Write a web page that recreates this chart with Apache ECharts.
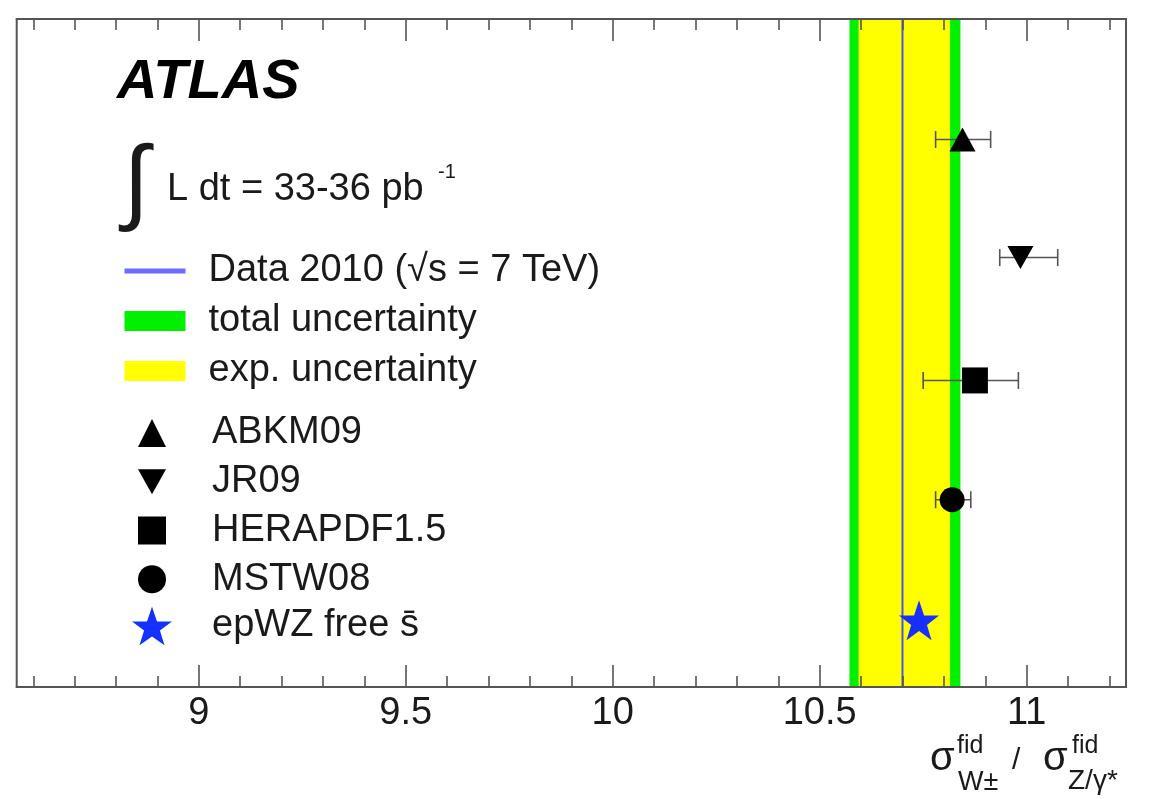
<!DOCTYPE html>
<html>
<head>
<meta charset="utf-8">
<script src="https://cdn.jsdelivr.net/npm/echarts@6/dist/echarts.min.js"></script>
<style>
html,body{margin:0;padding:0;background:#fff;}
#chart{width:1163px;height:799px;}
</style>
</head>
<body>
<div id="chart"></div>
<script>
// ---- data ----
const xRange = [8.56, 11.24];
const majorTicks = [9, 9.5, 10, 10.5, 11];
const minorTicks = [8.6, 8.7, 8.8, 8.9, 9.1, 9.2, 9.3, 9.4, 9.6, 9.7, 9.8, 9.9, 10.1, 10.2, 10.3, 10.4, 10.6, 10.7, 10.8, 10.9, 11.1, 11.2];
const dataValue = 10.70;              // Data 2010 central value
const expBand = [10.594, 10.815];     // exp. uncertainty
const totalBand = [10.572, 10.840];   // total uncertainty
const models = ['ABKM09', 'JR09', 'HERAPDF1.5', 'MSTW08', 'epWZ free s\u0304'];
const modelValues = [10.845, 10.985, 10.875, 10.820, 10.740];
const modelLow = [10.780, 10.935, 10.750, 10.780, 10.740];
const modelHigh = [10.913, 11.075, 10.980, 10.865, 10.740];
const modelRows = [4.59, 3.60, 2.57, 1.57, 0.56];
const yRange = [0, 5.6];

const FONT = 'Liberation Sans, Arial, Helvetica, sans-serif';
const BLUE_LINE = '#4a55f0';
const STAR_BLUE = '#1530ff';
const GREEN = '#00f000';
const YELLOW = '#ffff00';
const FRAME = '#555555';

const downTri = 'path://M0,0 L20,0 L10,18 Z';
const star = 'path://M50,0 L62,35 L98,35 L69,57 L80,92 L50,71 L20,92 L31,57 L2,35 L38,35 Z';
const symbols = ['triangle', downTri, 'rect', 'circle', star];
const symbolSizes = [[26, 24], [26, 23], 26, 25, 40];
const symbolColors = ['#000', '#000', '#000', '#000', STAR_BLUE];

function bandRender(params, api) {
  const cs = params.coordSys;
  const p1 = api.coord([api.value(0), yRange[1]]);
  const p2 = api.coord([api.value(1), yRange[0]]);
  return {
    type: 'rect',
    shape: { x: p1[0], y: cs.y, width: p2[0] - p1[0], height: cs.height },
    style: { fill: api.visual('color') }
  };
}

function errRender(params, api) {
  const lo = api.coord([api.value(1), api.value(3)]);
  const hi = api.coord([api.value(2), api.value(3)]);
  const cap = 8.5;
  const st = { stroke: FRAME, lineWidth: 1.6 };
  if (hi[0] - lo[0] < 0.5) return null;
  return {
    type: 'group',
    children: [
      { type: 'line', shape: { x1: lo[0], y1: lo[1], x2: hi[0], y2: hi[1] }, style: st },
      { type: 'line', shape: { x1: lo[0], y1: lo[1] - cap, x2: lo[0], y2: lo[1] + cap }, style: st },
      { type: 'line', shape: { x1: hi[0], y1: hi[1] - cap, x2: hi[0], y2: hi[1] + cap }, style: st }
    ]
  };
}

const errData = models.map((m, i) => [modelValues[i], modelLow[i], modelHigh[i], modelRows[i]]);

function axis(position, values, len, withLabel, withLine) {
  return {
    type: 'value', position: position, min: xRange[0], max: xRange[1], z: 10,
    splitLine: { show: false },
    axisLine: { show: withLine, onZero: false, lineStyle: { color: FRAME, width: 2 } },
    axisTick: { show: true, inside: true, length: len, customValues: values, lineStyle: { color: FRAME, width: 1.6 } },
    axisLabel: withLabel ? { show: true, customValues: values, margin: 8, fontSize: 38, fontFamily: FONT, color: '#1a1a1a' } : { show: false }
  };
}

const dataName = 'Data 2010 (\u221As = 7 TeV)';
const series = [
  { name: 'total uncertainty', type: 'custom', renderItem: bandRender, data: [totalBand], itemStyle: { color: GREEN }, encode: { x: [0, 1] }, z: 1, silent: true },
  { name: 'exp. uncertainty', type: 'custom', renderItem: bandRender, data: [expBand], itemStyle: { color: YELLOW }, encode: { x: [0, 1] }, z: 1, silent: true },
  { name: dataName, type: 'line', data: [[dataValue, yRange[0]], [dataValue, yRange[1]]], symbol: 'none', lineStyle: { color: BLUE_LINE, width: 2 }, itemStyle: { color: BLUE_LINE }, z: 2, silent: true },
  { name: 'errors', type: 'custom', renderItem: errRender, data: errData, encode: { x: [0, 1, 2], y: 3 }, z: 3, silent: true }
];
models.forEach((m, i) => {
  series.push({
    name: m, type: 'scatter', data: [[modelValues[i], modelRows[i]]],
    symbol: symbols[i], symbolSize: symbolSizes[i], symbolKeepAspect: false,
    itemStyle: { color: symbolColors[i], opacity: 1 }, z: 4, silent: true
  });
});

const legendText = { fontSize: 38, fontFamily: FONT, color: '#1a1a1a', lineHeight: 40 };

const option = {
  animation: false,
  backgroundColor: '#fff',
  grid: { left: 16.7, right: 37, top: 19, bottom: 112, show: true, borderColor: FRAME, borderWidth: 2, backgroundColor: 'transparent', containLabel: false },
  xAxis: [
    axis('bottom', majorTicks, 22, true, true),
    axis('bottom', minorTicks, 11, false, false),
    axis('top', majorTicks, 22, false, true),
    axis('top', minorTicks, 11, false, false)
  ],
  yAxis: { type: 'value', min: yRange[0], max: yRange[1], show: false },
  legend: [
    {
      data: [
        { name: dataName, itemStyle: { opacity: 0 }, lineStyle: { color: '#6b6bff', width: 5 } },
        { name: 'total uncertainty', icon: 'rect' },
        { name: 'exp. uncertainty', icon: 'rect' }
      ],
      orient: 'vertical', left: 122, top: 251, padding: 0, itemGap: 10,
      itemWidth: 61, itemHeight: 20, lineStyle: { width: 5 },
      textStyle: Object.assign({ padding: [0, 0, 0, 18] }, legendText),
      selectedMode: false
    },
    {
      data: models.slice(0, 4),
      orient: 'vertical', left: 138, top: 413, padding: 0, itemGap: 8.75,
      itemWidth: 28, itemHeight: 28,
      textStyle: Object.assign({ padding: [0, 0, 0, 41] }, legendText),
      selectedMode: false
    },
    {
      data: [models[4]],
      orient: 'vertical', left: 132, top: 606, padding: 0,
      itemWidth: 40, itemHeight: 40,
      textStyle: Object.assign({ padding: [0, 0, 0, 35] }, legendText),
      selectedMode: false
    }
  ],
  graphic: [
    { type: 'text', x: 117, y: 83, style: { text: 'ATLAS', font: 'italic bold 56px ' + FONT, fill: '#000', verticalAlign: 'middle' } },
    { type: 'text', x: 136, y: 186, style: { text: '\u222B', font: '94px ' + FONT, fill: '#1a1a1a', align: 'center', verticalAlign: 'middle' } },
    { type: 'text', x: 167, y: 190, style: { text: 'L dt = 33-36 pb', font: '38px ' + FONT, fill: '#1a1a1a', verticalAlign: 'middle' } },
    { type: 'text', x: 438, y: 172, style: { text: '-1', font: '20px ' + FONT, fill: '#1a1a1a', verticalAlign: 'middle' } },
    { type: 'text', x: 930, y: 759, style: { text: '\u03C3', font: '40px ' + FONT, fill: '#1a1a1a', verticalAlign: 'middle' } },
    { type: 'text', x: 957, y: 746, style: { text: 'fid', font: '25px ' + FONT, fill: '#1a1a1a', verticalAlign: 'middle' } },
    { type: 'text', x: 958, y: 783, style: { text: 'W\u00B1', font: '27px ' + FONT, fill: '#1a1a1a', verticalAlign: 'middle' } },
    { type: 'text', x: 1012, y: 761, style: { text: '/', font: '30px ' + FONT, fill: '#1a1a1a', verticalAlign: 'middle' } },
    { type: 'text', x: 1043, y: 759, style: { text: '\u03C3', font: '40px ' + FONT, fill: '#1a1a1a', verticalAlign: 'middle' } },
    { type: 'text', x: 1072, y: 746, style: { text: 'fid', font: '25px ' + FONT, fill: '#1a1a1a', verticalAlign: 'middle' } },
    { type: 'text', x: 1068, y: 781, style: { text: 'Z/\u03B3*', font: '28px ' + FONT, fill: '#1a1a1a', verticalAlign: 'middle' } }
  ],
  series: series
};

const chart = echarts.init(document.getElementById('chart'), null, { renderer: 'canvas' });
chart.setOption(option);
</script>
</body>
</html>
